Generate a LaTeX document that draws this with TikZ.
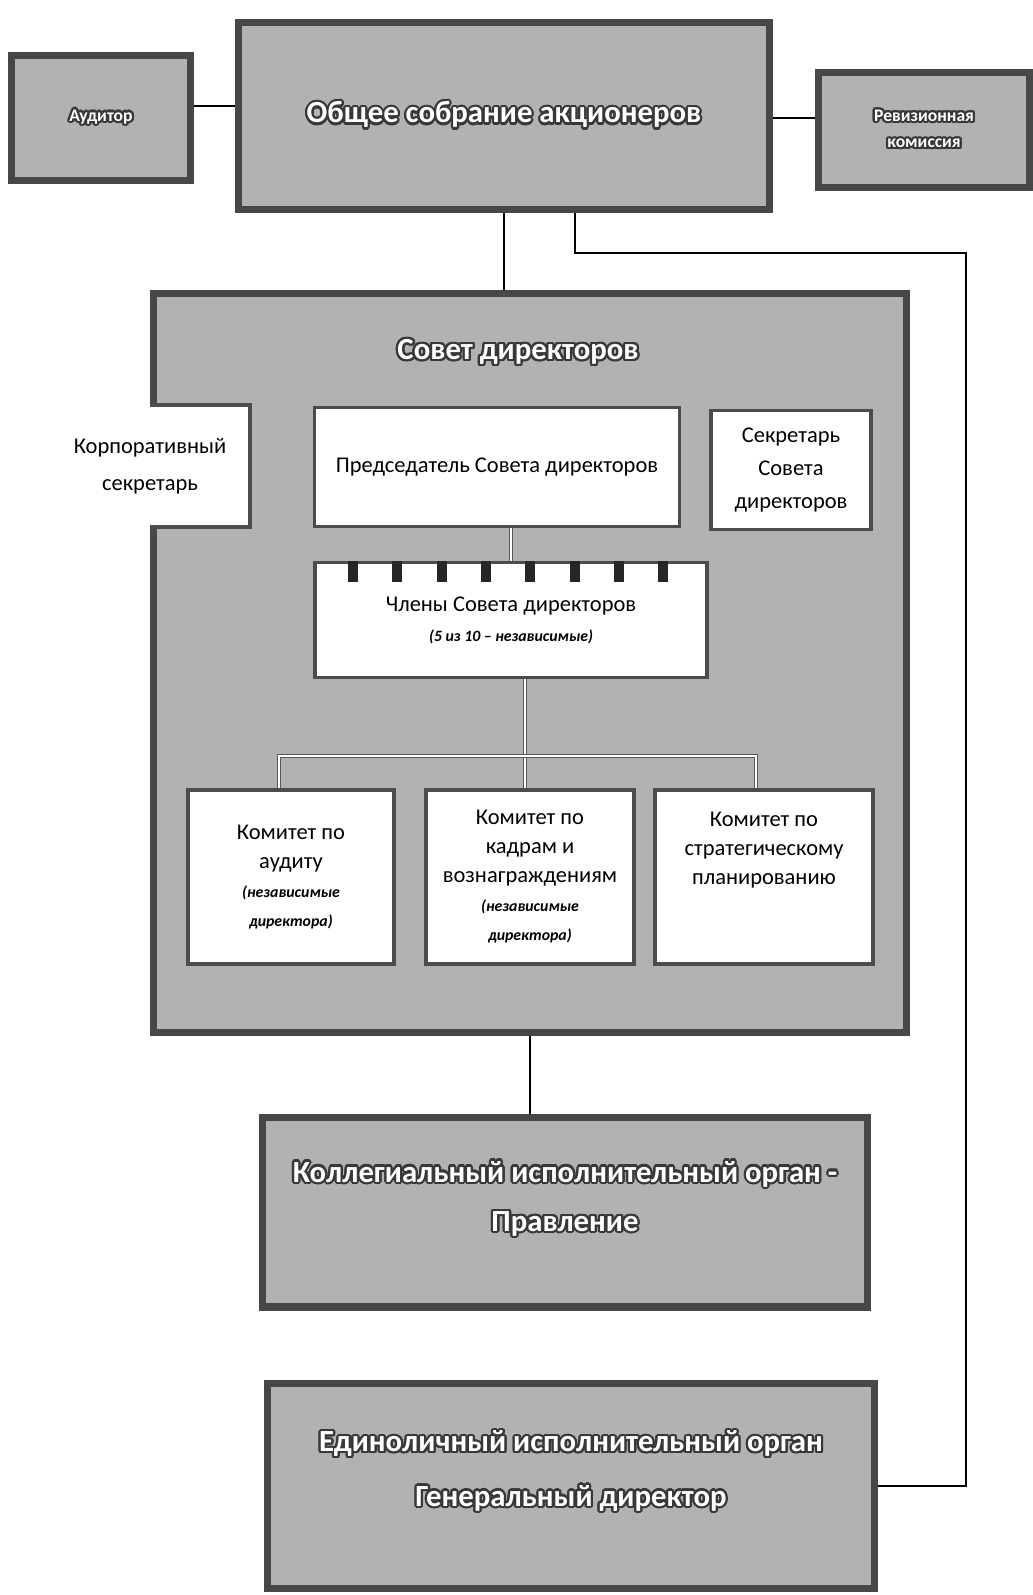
\documentclass[tikz,border=0pt]{standalone}
\usepackage{fontspec}
\setmainfont{Carlito}
\usepackage[copies]{contour}
\contourlength{1.3pt}
\usetikzlibrary{calc}

\newcommand{\glow}[1]{\contour{black!78}{#1}}

\tikzset{
  greybox/.style={rectangle, draw=black!72, line width=4pt, fill=black!30,
    text=white, align=center, font=\bfseries\fontsize{17.5}{28}\selectfont},
  whitebox/.style={rectangle, draw=black!70, line width=2.2pt, fill=white,
    align=center, font=\fontsize{12.8}{20}\selectfont},
  link/.style={draw=black, line width=1.1pt},
  dbl/.style={draw=black!65, double=white, double distance=1.2pt, line width=0.7pt},
}

\begin{document}
\begin{tikzpicture}[x=0.02cm, y=-0.02cm]
\useasboundingbox (0,0) rectangle (1033,1595);

        \begin{scope}[every node/.style={greybox}]
          \node[minimum width=3.58cm, minimum height=2.5cm,
                font=\bfseries\fontsize{10}{13}\selectfont] (aud) at (101,118) {\glow{Аудитор}};
          \node[minimum width=10.64cm, minimum height=3.76cm] (osa) at (504,116) {\glow{Общее собрание акционеров}};
          \node[minimum width=4.24cm, minimum height=2.3cm,
                font=\bfseries\fontsize{10}{15}\selectfont] (rev) at (924,130) {\glow{Ревизионная}\\\glow{комиссия}};
          \node[minimum width=15.08cm, minimum height=14.8cm] (sd) at (530,663) {};
          \node[draw=none, fill=none] (sdt) at (518,353) {\glow{Совет директоров}};
          \node[minimum width=12.1cm, minimum height=3.8cm, text depth=18pt] (koll) at (565,1212)
            {\glow{Коллегиальный исполнительный орган -}\\\glow{Правление}};
          \node[minimum width=12.16cm, minimum height=4.1cm, text depth=20pt,
                font=\bfseries\fontsize{17.5}{31}\selectfont] (edin) at (571,1486)
            {\glow{Единоличный исполнительный орган}\\\glow{Генеральный директор}};
        \end{scope}

        \begin{scope}[every node/.style={whitebox}]
          \node[minimum width=3.94cm, minimum height=2.36cm, draw=none,
                font=\fontsize{12.8}{21}\selectfont] (korp) at (150,466) {Корпоративный\\секретарь};
          \node[minimum width=7.3cm, minimum height=2.38cm] (pred) at (497,467) {Председатель Совета директоров};
          \node[minimum width=3.2cm, minimum height=2.38cm, font=\fontsize{12.8}{19}\selectfont] (sekr) at (791,470)
            {Секретарь\\Совета\\директоров};
          \node[minimum width=7.84cm, minimum height=2.3cm, font=\fontsize{12.8}{17}\selectfont] (chl) at (511,620)
            {Члены Совета директоров\\{\bfseries\itshape\fontsize{9}{12}\selectfont (5 из 10 -- независимые)}};
          \node[minimum width=4.12cm, minimum height=3.48cm, font=\fontsize{12.8}{16.5}\selectfont] (k1) at (291,877)
            {Комитет по\\аудиту\\{\bfseries\itshape\fontsize{9}{12}\selectfont (независимые}\\{\bfseries\itshape\fontsize{9}{12}\selectfont директора)}};
          \node[minimum width=4.16cm, minimum height=3.48cm, font=\fontsize{12.8}{16.5}\selectfont] (k2) at (530,877)
            {Комитет по\\кадрам и\\вознаграждениям\\{\bfseries\itshape\fontsize{9}{12}\selectfont (независимые}\\{\bfseries\itshape\fontsize{9}{12}\selectfont директора)}};
          \node[minimum width=4.36cm, minimum height=3.48cm, font=\fontsize{12.8}{16.5}\selectfont] (k3) at (764,877)
            {Комитет по\\стратегическому\\планированию\\~\\~};
        \end{scope}

        % open-sided frame of the corporate secretary
        \draw[draw=black!70, line width=2.2pt] (korp.north -| sd.west) -| (korp.south east) -- (korp.south -| sd.west);

        % tabs on the members box
        \foreach \i in {0,...,7}
          \fill[black!85] ($(chl.north west)+(35+44.3*\i,0)$) rectangle ++(10,21);

        \coordinate (audl) at ([yshift=0.24cm]aud.east);
        \coordinate (revl) at ([yshift=0.24cm]rev.west);
        \coordinate (rt) at (966,253);
        \coordinate (bar) at (525,756);

        \begin{scope}[every path/.style={link}]
          \path (audl) edge (audl -| osa.west);
          \path (revl -| osa.east) edge (revl);
          \path (osa.south) edge (osa.south |- sd.north);
          \draw ([xshift=1.42cm]osa.south) |- (rt) |- (edin.east);
          \path (sd.south) edge (sd.south |- koll.north);
        \end{scope}

        \begin{scope}[every path/.style={dbl}]
          \path (chl.north |- pred.south) edge (chl.north);
          \path (bar |- chl.south) edge (bar |- k2.north);
          \draw ([xshift=-0.24cm]k1.north) |- (bar) -| ([xshift=-0.16cm]k3.north);
        \end{scope}

\end{tikzpicture}
\end{document}
